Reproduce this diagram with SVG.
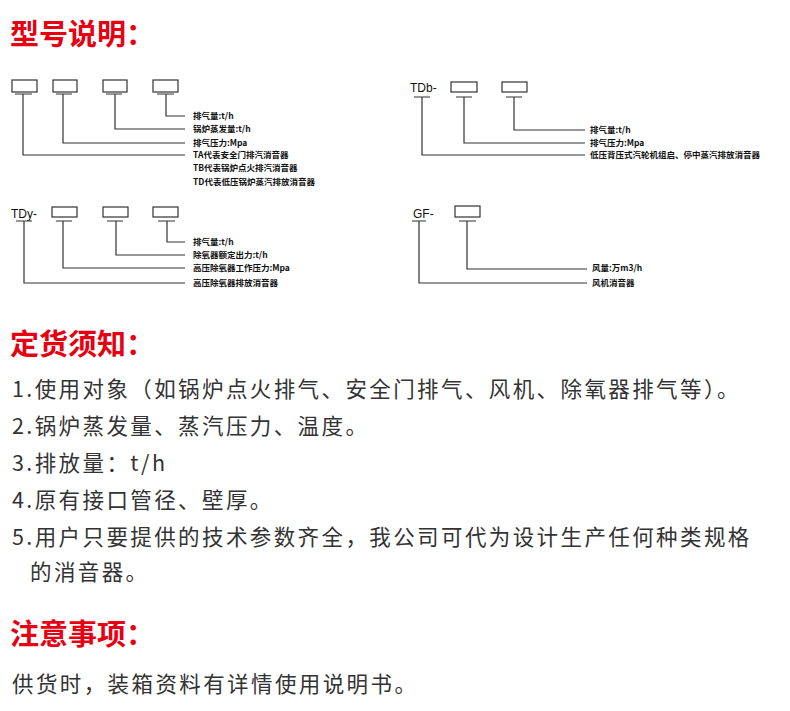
<svg xmlns="http://www.w3.org/2000/svg" width="790" height="711" viewBox="0 0 790 711">
<style>
.t{font-family:"Noto Sans CJK SC","Liberation Sans",sans-serif;font-weight:bold;font-size:29px;fill:#e60012}
.b{font-family:"Noto Sans CJK SC","Liberation Sans",sans-serif;font-size:21.5px;fill:#333;letter-spacing:2.4px}
.s{font-family:"Noto Sans CJK SC","Liberation Sans",sans-serif;font-weight:bold;font-size:8.5px;fill:#111}
.c{font-family:"Liberation Sans",sans-serif;font-size:12px;fill:#111}
.bx{fill:#fff;stroke:#333;stroke-width:1.2}
.ln{fill:none;stroke:#333;stroke-width:1.2}
</style>
<rect width="790" height="711" fill="#fff"/>
<text class="t" x="10" y="45">型号说明：</text>
<g id="block1">
<rect class="bx" x="12" y="80" width="25" height="12"/>
<rect class="bx" x="53" y="80" width="24" height="12"/>
<rect class="bx" x="103" y="80" width="24" height="12"/>
<rect class="bx" x="153" y="80" width="25" height="12"/>
<text class="s" x="193" y="119">排气量:t/h</text>
<text class="s" x="193" y="132">锅炉蒸发量:t/h</text>
<text class="s" x="193" y="146">排气压力:Mpa</text>
<text class="s" x="193" y="158">TA代表安全门排汽消音器</text>
<text class="s" x="193" y="171">TB代表锅炉点火排汽消音器</text>
<text class="s" x="193" y="185">TD代表低压锅炉蒸汽排放消音器</text>
</g>
<g id="block2">
<text class="c" x="410" y="92">TDb-</text>
<rect class="bx" x="451" y="82" width="26" height="10"/>
<rect class="bx" x="502" y="82" width="25" height="10"/>
<text class="s" x="590" y="133">排气量:t/h</text>
<text class="s" x="590" y="146">排气压力:Mpa</text>
<text class="s" x="590" y="158">低压背压式汽轮机组启、停中蒸汽排放消音器</text>
</g>
<g id="block3">
<text class="c" x="11" y="218">TDy-</text>
<rect class="bx" x="52" y="207" width="25" height="10"/>
<rect class="bx" x="103" y="207" width="25" height="10"/>
<rect class="bx" x="153" y="207" width="25" height="10"/>
<text class="s" x="193" y="245">排气量:t/h</text>
<text class="s" x="193" y="258">除氧器额定出力:t/h</text>
<text class="s" x="193" y="271">高压除氧器工作压力:Mpa</text>
<text class="s" x="193" y="286">高压除氧器排放消音器</text>
</g>
<g id="block4">
<text class="c" x="413" y="218">GF-</text>
<rect class="bx" x="455" y="206" width="25" height="11"/>
<text class="s" x="592" y="271">风量:万m3/h</text>
<text class="s" x="592" y="286">风机消音器</text>
</g>
<g id="connectors" class="ln">
<path d="M15 94H32M56 94H72M106 94H122M157 94H174"/>
<path d="M166 94V116H185M115 94V129H185M63 94V143H185M23 94V155H185"/>
<path d="M414 97H430M456 97H472M506 97H522"/>
<path d="M514 97V130H585M464 97V143H585M422 97V155H585"/>
<path d="M16 221H32M56 221H72M107 221H123M158 221H175"/>
<path d="M167 221V242H185M116 221V255H185M63 221V268H185M24 221V283H185"/>
<path d="M412 221H426M459 221H476"/>
<path d="M467 221V269H587M419 221V283H587"/>
</g>
<text class="t" x="10" y="355">定货须知：</text>
<text class="b" x="12" y="397">1.使用对象（如锅炉点火排气、安全门排气、风机、除氧器排气等）。</text>
<text class="b" x="12" y="434">2.锅炉蒸发量、蒸汽压力、温度。</text>
<text class="b" x="12" y="471">3.排放量：t/h</text>
<text class="b" x="12" y="508">4.原有接口管径、壁厚。</text>
<text class="b" x="12" y="545">5.用户只要提供的技术参数齐全，我公司可代为设计生产任何种类规格</text>
<text class="b" x="30" y="580">的消音器。</text>
<text class="t" x="10" y="645">注意事项：</text>
<text class="b" x="12" y="692">供货时，装箱资料有详情使用说明书。</text>
</svg>
